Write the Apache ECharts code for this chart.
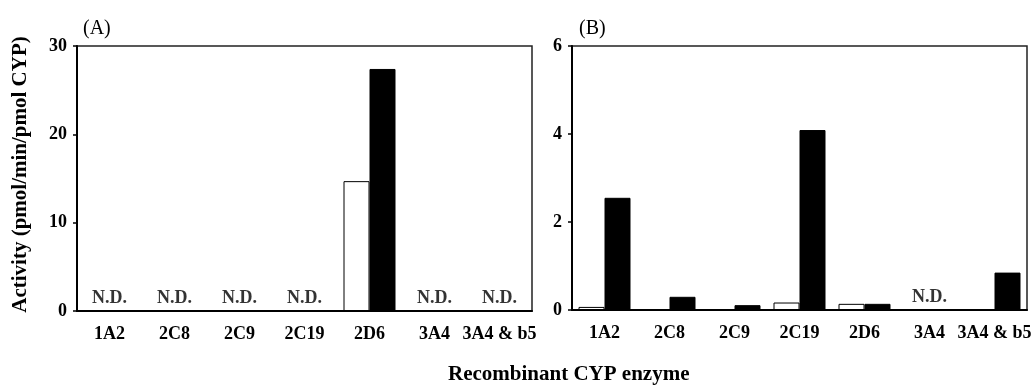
<!DOCTYPE html>
<html lang="en">
<head>
<meta charset="UTF-8">
<title>Recombinant CYP activity</title>
<script src="https://cdn.jsdelivr.net/npm/echarts@6/dist/echarts.min.js"></script>
<style>
  html, body { margin: 0; padding: 0; background: #fff; }
  #chart { width: 1035px; height: 385px; }
</style>
</head>
<body>
<div id="chart"></div>
<script>
// categories shared by both panels
var categories = ['1A2', '2C8', '2C9', '2C19', '2D6', '3A4', '3A4 & b5'];

// panel A values (null = not detected)
var whiteA = [null, null, null, null, 14.7, null, null];
var blackA = [null, null, null, null, 27.4, null, null];
var ndA = ['1A2', '2C8', '2C9', '2C19', '3A4', '3A4 & b5'];

// panel B values
var whiteB = [0.07, 0.01, 0.01, 0.17, 0.14, null, 0.01];
var blackB = [2.55, 0.30, 0.11, 4.09, 0.14, null, 0.85];
var ndB = ['3A4'];

var yTicksA = { max: 30, interval: 10 };
var yTicksB = { max: 6, interval: 2 };

var font = "'Liberation Serif', 'Times New Roman', serif";

function xAxis(idx) {
  return {
    type: 'category',
    gridIndex: idx,
    data: categories,
    axisLine: { lineStyle: { color: '#000', width: 2 } },
    axisTick: { alignWithLabel: true, length: 6, lineStyle: { color: '#000', width: 1.5 } },
    axisLabel: { margin: 14, color: '#000', fontFamily: font, fontWeight: 'bold', fontSize: 18, interval: 0 }
  };
}

function yAxis(idx, ticks, name) {
  return {
    type: 'value',
    gridIndex: idx,
    min: 0,
    max: ticks.max,
    interval: ticks.interval,
    name: name,
    nameLocation: 'middle',
    nameGap: 46,
    nameTextStyle: { color: '#000', fontFamily: font, fontWeight: 'bold', fontSize: 21, padding: [0, 0, 0, 8] },
    splitLine: { show: false },
    axisLine: { show: true, lineStyle: { color: '#000', width: 2 } },
    axisTick: { show: true, length: 4, lineStyle: { color: '#000', width: 1.5 } },
    axisLabel: { margin: 10, color: '#000', fontFamily: font, fontWeight: 'bold', fontSize: 18 }
  };
}

function bars(idx, name, values, fill) {
  return {
    type: 'bar',
    name: name,
    xAxisIndex: idx,
    yAxisIndex: idx,
    data: values,
    barGap: 0,
    barCategoryGap: '20%',
    itemStyle: { color: fill, borderColor: '#000', borderWidth: 1 },
    silent: true
  };
}

function ndLabels(idx, list) {
  return {
    type: 'scatter',
    xAxisIndex: idx,
    yAxisIndex: idx,
    symbolSize: 0,
    data: list.map(function (c) { return [c, 0]; }),
    label: {
      show: true,
      position: 'top',
      distance: 4,
      formatter: 'N.D.',
      color: '#000',
      fontFamily: font,
      fontWeight: 'bold',
      fontSize: 18
    },
    silent: true
  };
}

var chart = echarts.init(document.getElementById('chart'));
chart.setOption({
  animation: false,
  backgroundColor: '#fff',
  title: [
    { text: '(A)', left: 78, top: 14, textStyle: { fontFamily: font, fontWeight: 'normal', fontSize: 20, color: '#000' } },
    { text: '(B)', left: 574, top: 14, textStyle: { fontFamily: font, fontWeight: 'normal', fontSize: 20, color: '#000' } },
    { text: 'Recombinant CYP enzyme', left: 443, top: 359, textStyle: { fontFamily: font, fontWeight: 'bold', fontSize: 21, color: '#000' } }
  ],
  grid: [
    { left: 77, right: 503, top: 46, bottom: 74, show: true, borderColor: '#222', borderWidth: 1.5 },
    { left: 572, right: 8, top: 46, bottom: 75, show: true, borderColor: '#222', borderWidth: 1.5 }
  ],
  xAxis: [xAxis(0), xAxis(1)],
  yAxis: [
    yAxis(0, yTicksA, 'Activity (pmol/min/pmol CYP)'),
    yAxis(1, yTicksB, '')
  ],
  series: [
    bars(0, 'white', whiteA, '#fff'),
    bars(0, 'black', blackA, '#000'),
    ndLabels(0, ndA),
    bars(1, 'white', whiteB, '#fff'),
    bars(1, 'black', blackB, '#000'),
    ndLabels(1, ndB)
  ]
});
</script>
</body>
</html>
